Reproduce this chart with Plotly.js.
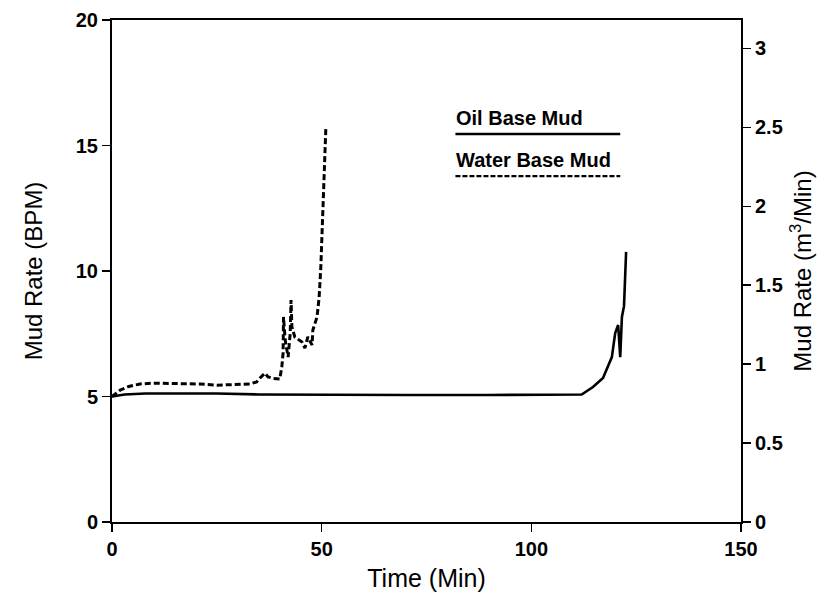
<!DOCTYPE html>
<html>
<head>
<meta charset="utf-8">
<script src="https://cdn.plot.ly/plotly-3.0.1.min.js"></script>
<style>
  html, body { margin: 0; padding: 0; background: #fff; }
  #chart { width: 829px; height: 601px; }
</style>
</head>
<body>
<div id="chart"></div>
<script>
// Oil base mud: time (min) and mud rate (BPM)
const oilTime = [0, 3, 8, 15, 25, 35, 50, 70, 90, 105, 112, 114.7, 117.1, 119.2, 120, 120.7, 121.2, 121.6, 122.1, 122.6];
const oilRate = [5.0, 5.08, 5.12, 5.13, 5.12, 5.08, 5.06, 5.06, 5.06, 5.06, 5.08, 5.38, 5.74, 6.57, 7.53, 7.85, 6.57, 8.17, 8.6, 10.76];

// Water base mud: time (min) and mud rate (BPM)
const waterTime = [0, 1, 2, 4, 6.7, 10, 13, 17, 21, 25, 28.9, 32.9, 34.5, 35.3, 36.5, 37.2, 38.5, 40, 40.5, 40.8, 40.9, 41.3, 42, 42.5, 42.7, 42.9, 43.6, 45.3, 46, 46.7, 47.7, 47.9, 48.9, 49.4, 49.8, 50.1, 50.3, 50.8, 51];
const waterRate = [5.0, 5.15, 5.26, 5.4, 5.5, 5.53, 5.53, 5.52, 5.5, 5.45, 5.48, 5.5, 5.58, 5.74, 5.93, 5.78, 5.72, 5.7, 6.18, 6.73, 8.17, 7.25, 6.57, 7.53, 8.84, 7.77, 7.37, 7.17, 6.93, 7.37, 7.05, 7.65, 8.17, 8.96, 10.16, 11.5, 12.8, 14.4, 15.7];

// Axis ticks
const xTicks = [0, 50, 100, 150];
const yTicks = [0, 5, 10, 15, 20];
const y2Ticks = [0, 0.5, 1, 1.5, 2, 2.5, 3];

// Legend labels
const seriesNames = ["Oil Base Mud", "Water Base Mud"];

const FONT = "Liberation Sans, Arial, sans-serif";

const traces = [
  {
    x: oilTime, y: oilRate, mode: "lines", name: seriesNames[0],
    line: { color: "#000", width: 2.6 }, showlegend: false
  },
  {
    x: waterTime, y: waterRate, mode: "lines", name: seriesNames[1],
    line: { color: "#000", width: 3, dash: "6px,3px" }, showlegend: false
  },
  {
    x: [], y: [], yaxis: "y2", mode: "lines", showlegend: false, hoverinfo: "skip"
  }
];

const tickFont = { family: FONT, size: 20, color: "#000", weight: "bold" };
const titleFont = { family: FONT, size: 24, color: "#000" };

const layout = {
  width: 829, height: 601,
  margin: { l: 112, r: 88, t: 20, b: 79 },
  paper_bgcolor: "#fff", plot_bgcolor: "#fff",
  font: { family: FONT, color: "#000" },
  showlegend: false,
  xaxis: {
    range: [0, 150], tickvals: xTicks, ticktext: xTicks.map(String),
    showgrid: false, zeroline: false,
    showline: true, mirror: true, linecolor: "#000", linewidth: 2,
    ticks: "outside", ticklen: 8, tickwidth: 1.5, tickcolor: "#000",
    tickfont: tickFont,
    title: { text: "Time (Min)", font: { family: FONT, size: 25, color: "#000" }, standoff: 10 }
  },
  yaxis: {
    range: [0, 20], tickvals: yTicks, ticktext: yTicks.map(String),
    showgrid: false, zeroline: false,
    showline: true, linecolor: "#000", linewidth: 2,
    ticks: "outside", ticklen: 8, tickwidth: 1.5, tickcolor: "#000",
    tickfont: tickFont,
    title: { text: "Mud Rate (BPM)", font: titleFont, standoff: 26 }
  },
  yaxis2: {
    overlaying: "y", side: "right",
    range: [0, 3.18], tickvals: y2Ticks, ticktext: y2Ticks.map(String),
    showgrid: false, zeroline: false,
    showline: true, linecolor: "#000", linewidth: 2,
    ticks: "outside", ticklen: 8, tickwidth: 1.5, tickcolor: "#000",
    tickfont: tickFont,
    title: { text: "Mud Rate (m<sup>3</sup>/Min)", font: titleFont, standoff: 12 }
  },
  annotations: [
    {
      xref: "paper", yref: "paper", x: 0.543, y: 0.805, xanchor: "left", yanchor: "middle",
      text: seriesNames[0], showarrow: false,
      font: { family: FONT, size: 20, color: "#000", weight: "bold" }
    },
    {
      xref: "paper", yref: "paper", x: 0.543, y: 0.721, xanchor: "left", yanchor: "middle",
      text: seriesNames[1], showarrow: false,
      font: { family: FONT, size: 20, color: "#000", weight: "bold" }
    }
  ],
  shapes: [
    {
      type: "line", xref: "paper", yref: "paper",
      x0: 0.546, x1: 0.808, y0: 0.773, y1: 0.773,
      line: { color: "#000", width: 2.4 }
    },
    {
      type: "line", xref: "paper", yref: "paper",
      x0: 0.546, x1: 0.808, y0: 0.689, y1: 0.689,
      line: { color: "#000", width: 2.4, dash: "5px,2px" }
    }
  ]
};

Plotly.newPlot("chart", traces, layout, { displayModeBar: false, staticPlot: true });
</script>
</body>
</html>
